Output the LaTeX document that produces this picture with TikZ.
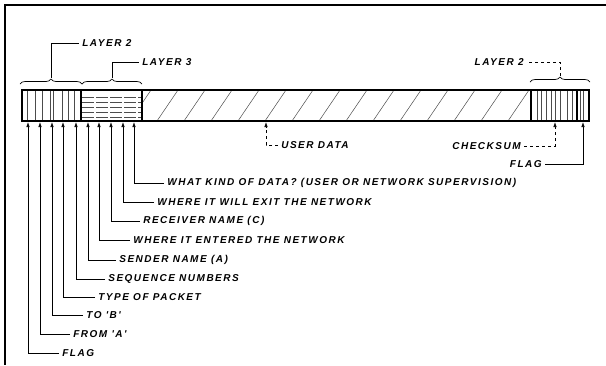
\documentclass[tikz,border=0pt]{standalone}
\usepackage{fontspec}
\newfontfamily\pktfont[LetterSpace=15]{Liberation Sans}
\usepackage{tikz}
\usetikzlibrary{positioning}
\usetikzlibrary{arrows.meta}
\usetikzlibrary{decorations.pathreplacing}

\tikzset{
	lbl/.style={font=\pktfont\bfseries\itshape\fontsize{10}{12}\selectfont, inner xsep=3pt, inner ysep=1pt},
	brc/.style={decoration={brace,amplitude=5pt}, decorate, line width=0.7pt},
	fill lines/.style={line width=0.5pt, black!70}
}

\begin{document}
\begin{tikzpicture}[x=1pt, y=-1pt, line width=0.7pt]
	\useasboundingbox (0,0) rectangle (606,365);

	% frame (top and left edge only)
	\draw[line width=1.6pt] (606,5) -- (5,5) -- (5,365);

	% the packet
	\begin{scope}
	    \clip (142,90) rectangle (531,121);
	    \foreach \x in {130,157,...,560}
	        \draw[fill lines] (\x,121) -- (\x+21,90);
	\end{scope}
	\foreach \x in {27,35,42,50,53,62,68,74}
	    \draw[fill lines] (\x,90) -- (\x,121);
	\foreach \y in {97,102,107,112,117}
	    \draw[fill lines, dash pattern=on 12pt off 2pt] (82,\y) -- (141,\y);
	\foreach \x in {537,541,546,551,555,560,567,572,580,583}
	    \draw[fill lines] (\x,90) -- (\x,121);
	\draw[line width=1.2pt] (22,90) rectangle (589,121);
	\draw[line width=1.2pt] (81,90) -- (81,121);
	\draw[line width=1.2pt] (142,90) -- (142,121);
	\draw[line width=1.2pt] (531,90) -- (531,121);
	\draw[line width=1.2pt] (577,90) -- (577,121);

	% where the arrows meet the packet
	\coordinate (p1) at (28,122);
	\coordinate (p2) at (40,122);
	\coordinate (p3) at (52,122);
	\coordinate (p4) at (63,122);
	\coordinate (p5) at (76,122);
	\coordinate (p6) at (88,122);
	\coordinate (p7) at (99,122);
	\coordinate (p8) at (111,122);
	\coordinate (p9) at (123,122);
	\coordinate (p10) at (134,122);
	\coordinate (pdata) at (266,122);
	\coordinate (psum) at (555,122);
	\coordinate (pflag) at (583,122);

	\begin{scope}[every node/.style={lbl, anchor=west}]
	    \node (kind) at (164,183) {WHAT KIND OF DATA? (USER OR NETWORK SUPERVISION)};
	    \node (exit) at (154,202) {WHERE IT WILL EXIT THE NETWORK};
	    \node (recv) at (140,221) {RECEIVER NAME (C)};
	    \node (entry) at (130,240) {WHERE IT ENTERED THE NETWORK};
	    \node (send) at (116,260) {SENDER NAME (A)};
	    \node (seq) at (105,279) {SEQUENCE NUMBERS};
	    \node (type) at (95,297) {TYPE OF PACKET};
	    \node (to) at (83,315) {TO 'B'};
	    \node (from) at (70,334) {FROM 'A'};
	    \node (flag) at (59,353) {FLAG};
	    \node (data) at (278,145) {USER DATA};
	    \node (lay2a) at (79,43) {LAYER 2};
	    \node (lay3) at (139,62) {LAYER 3};
	\end{scope}
	\begin{scope}[every node/.style={lbl, anchor=east}]
	    \node (sum) at (524,146) {CHECKSUM};
	    \node (flagb) at (545,164) {FLAG};
	    \node (lay2b) at (527,62) {LAYER 2};
	\end{scope}

	% braces over the layers
	\draw[brc] (20,84) -- (82,84);
	\draw[brc] (82,84) -- (142,84);
	\draw[brc] (530,82) -- (590,82);
	\coordinate (b1) at (51,78);
	\coordinate (b2) at (112,78);
	\coordinate (b3) at (560,76);
	\draw (b1) |- (lay2a.west);
	\draw (b2) |- (lay3.west);
	\draw[dashed] (b3) |- (lay2b.east);

	\begin{scope}[>={Latex[length=5pt,width=3.5pt]}]
	    \path [->] (kind.west) edge[to path={-| (\tikztotarget)}] (p10);
	    \path [->] (exit.west) edge[to path={-| (\tikztotarget)}] (p9);
	    \path [->] (recv.west) edge[to path={-| (\tikztotarget)}] (p8);
	    \path [->] (entry.west) edge[to path={-| (\tikztotarget)}] (p7);
	    \path [->] (send.west) edge[to path={-| (\tikztotarget)}] (p6);
	    \path [->] (seq.west) edge[to path={-| (\tikztotarget)}] (p5);
	    \path [->] (type.west) edge[to path={-| (\tikztotarget)}] (p4);
	    \path [->] (to.west) edge[to path={-| (\tikztotarget)}] (p3);
	    \path [->] (from.west) edge[to path={-| (\tikztotarget)}] (p2);
	    \path [->] (flag.west) edge[to path={-| (\tikztotarget)}] (p1);
	    \path [->] (data.west) edge[dashed, to path={-| (\tikztotarget)}] (pdata);
	    \path [->] (sum.east) edge[dashed, to path={-| (\tikztotarget)}] (psum);
	    \path [->] (flagb.east) edge[to path={-| (\tikztotarget)}] (pflag);
	\end{scope}
\end{tikzpicture}
\end{document}
